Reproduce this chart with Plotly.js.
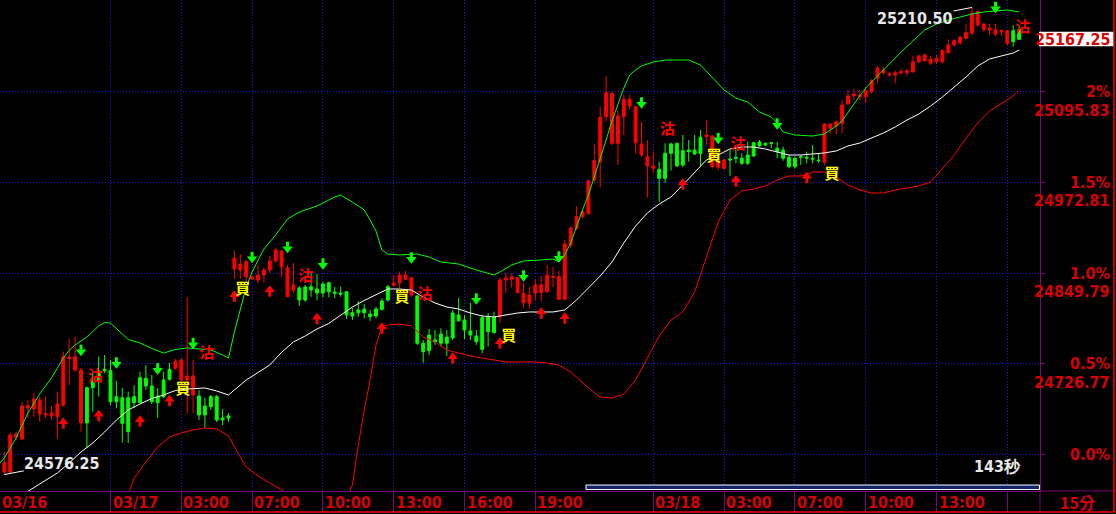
<!DOCTYPE html>
<html><head><meta charset="utf-8">
<script src="https://cdn.plot.ly/plotly-3.0.1.min.js"></script>
<style>html,body{margin:0;padding:0;background:#000;overflow:hidden}#chart{width:1116px;height:514px}</style>
</head><body><div id="chart"></div>
<script>
// ---- candle data (15-minute bars) ----
const opens = [24579.7,24579.7,24627.2,24624.5,24666.6,24665.3,24658.5,24657.1,24655.8,24654.8,
24670.7,24733.8,24718.2,24646.3,24694.2,24702.3,24716.9,24719.2,24717.3,24682.0,
24680.6,24680.6,24682.0,24707.8,24706.9,24696.5,24682.9,24704.6,24719.2,24720.5,
24704.6,24704.6,24684.3,24682.9,24669.3,24682.0,24682.0,24653.0,24655.8,24855.4,
24854.0,24844.5,24841.8,24840.4,24847.2,24854.0,24866.2,24858.1,24817.7,24826.8,
24829.6,24830.9,24831.3,24828.2,24835.0,24836.7,24824.1,24822.8,24824.5,24796.0,
24799.7,24801.0,24794.2,24801.0,24811.9,24831.3,24833.6,24836.7,24841.4,24820.0,
24818.7,24754.5,24765.7,24759.0,24767.1,24763.0,24795.6,24792.9,24786.1,24771.2,
24764.4,24789.2,24790.2,24790.2,24790.2,24840.4,24841.4,24823.2,24809.6,24808.8,
24822.4,24823.2,24824.5,24844.1,24814.2,24814.2,24887.9,24910.6,24926.4,24931.0,
24976.2,25001.0,25062.1,25026.0,25026.0,25062.1,25076.7,25026.8,25010.1,24995.2,
24992.1,24990.7,25012.4,25025.1,25026.0,25016.0,25016.9,25016.9,25034.2,25035.0,
24994.3,24993.4,24992.1,25004.7,25007.0,25005.7,25010.1,25026.8,25027.8,25026.0,
25026.8,25019.2,25016.9,25007.0,25005.7,25007.8,25007.0,25005.7,25003.4,25000.6,
25046.4,25049.5,25053.2,25079.4,25090.7,25089.3,25089.3,25096.1,25114.3,25121.9,
25118.8,25118.8,25121.9,25121.9,25123.2,25136.8,25138.2,25134.7,25136.8,25136.8,
25149.0,25159.5,25162.6,25168.6,25175.4,25186.7,25180.8,25179.9,25174.4,25177.6,
25161.8,25178.9,25180.8];
const highs = [24607.3,24633.1,24634.4,24675.2,24677.5,24687.4,24682.0,24682.0,24669.3,24688.8,
24743.1,24760.3,24763.4,24720.9,24695.5,24715.9,24736.3,24738.6,24731.8,24703.7,
24693.8,24688.8,24697.8,24715.9,24725.0,24711.4,24693.8,24715.9,24727.7,24733.1,
24734.5,24817.3,24731.8,24691.1,24680.2,24684.3,24684.3,24665.3,24659.8,24880.2,
24875.7,24867.6,24847.2,24860.8,24856.7,24873.0,24883.9,24881.1,24860.8,24863.5,
24832.3,24833.6,24849.9,24848.6,24838.1,24838.1,24831.3,24831.3,24824.5,24802.4,
24811.9,24807.8,24799.7,24804.2,24815.6,24833.6,24847.2,24851.7,24852.6,24844.9,
24820.0,24759.0,24773.9,24772.5,24774.8,24772.5,24799.7,24816.0,24792.9,24809.6,
24772.5,24792.9,24795.6,24797.4,24843.5,24849.9,24849.5,24844.9,24836.3,24831.3,
24840.4,24845.8,24860.8,24858.1,24853.0,24894.7,24912.8,24940.9,24935.5,24976.2,
25025.1,25075.7,25117.4,25096.1,25071.2,25091.6,25091.6,25075.7,25055.4,25030.5,
25014.6,25001.0,25026.0,25026.8,25026.0,25037.3,25030.5,25037.3,25044.1,25057.7,
25037.3,25003.4,25005.7,25016.9,25021.4,25012.4,25028.2,25028.2,25030.5,25026.8,
25026.8,25028.2,25021.4,25010.1,25007.8,25010.1,25014.6,25023.7,25012.4,25053.2,
25053.2,25056.7,25084.8,25098.4,25099.8,25098.4,25102.9,25112.9,25131.0,25130.0,
25123.2,25124.6,25127.9,25127.9,25144.6,25145.9,25148.2,25144.6,25145.9,25153.7,
25167.2,25167.2,25171.7,25188.0,25210.5,25207.0,25189.0,25188.0,25188.0,25180.8,
25179.9,25186.7,25184.3];
const lows = [24576.25,24578.4,24623.2,24623.2,24653.0,24654.8,24648.0,24653.0,24650.3,24624.5,
24668.4,24697.8,24715.9,24634.4,24612.3,24661.6,24682.0,24714.1,24670.7,24666.2,
24619.5,24619.1,24666.6,24673.4,24691.1,24672.0,24653.0,24680.2,24703.7,24718.2,
24701.9,24659.8,24659.8,24650.3,24639.5,24663.9,24647.6,24643.5,24647.6,24841.8,
24841.8,24838.1,24840.4,24836.3,24836.7,24849.9,24864.9,24844.5,24817.3,24822.8,
24805.1,24810.5,24817.7,24813.3,24816.9,24816.9,24815.6,24817.7,24787.5,24786.1,
24790.2,24788.4,24785.1,24788.4,24798.7,24811.0,24830.9,24829.1,24840.4,24817.7,
24752.2,24728.1,24738.6,24752.2,24749.8,24737.2,24759.0,24783.8,24760.3,24759.0,
24752.2,24741.3,24749.8,24768.0,24782.0,24822.8,24830.5,24822.4,24802.4,24802.0,
24813.3,24811.0,24822.8,24830.9,24813.3,24813.3,24883.5,24908.3,24924.2,24928.7,
24973.9,24966.3,25055.4,25023.7,24996.6,25037.3,25071.2,25012.4,25007.8,24952.7,
24985.7,24946.7,24972.5,24988.8,24994.3,24993.8,25001.0,25010.1,24994.3,25023.7,
24992.1,24989.8,24989.8,24981.6,24998.9,24996.6,24996.6,25007.8,25021.4,25022.4,
25019.2,25005.7,25002.4,24992.1,24992.1,24996.6,24998.9,24998.9,24999.7,24996.6,
25039.6,25038.7,25040.0,25078.0,25084.8,25084.8,25080.3,25093.9,25107.9,25118.8,
25116.5,25107.5,25118.8,25117.4,25121.9,25134.7,25136.8,25132.3,25133.7,25134.7,
25148.2,25157.2,25159.5,25167.2,25173.1,25184.3,25177.6,25173.1,25171.7,25171.7,
25159.5,25157.2,25166.3];
const closes = [24592.3,24630.0,24631.3,24669.3,24669.7,24678.8,24677.5,24658.5,24659.8,24672.0,
24736.3,24735.9,24736.3,24718.2,24646.3,24694.2,24702.3,24717.3,24675.2,24675.2,
24645.8,24634.4,24673.8,24673.8,24696.5,24675.2,24673.8,24682.0,24705.6,24729.5,
24731.8,24710.1,24710.1,24657.1,24657.1,24668.4,24650.3,24650.3,24653.0,24870.3,
24862.1,24865.3,24844.5,24847.2,24854.0,24866.2,24881.1,24879.8,24856.7,24833.6,
24813.3,24813.3,24826.8,24822.8,24822.8,24824.5,24822.4,24821.4,24792.9,24791.5,
24796.0,24796.0,24790.6,24791.5,24800.6,24813.3,24836.3,24847.2,24847.2,24843.5,
24754.5,24743.1,24744.4,24756.2,24754.5,24754.5,24761.7,24785.1,24772.5,24765.7,
24756.6,24746.3,24770.2,24768.9,24840.4,24843.1,24844.9,24843.5,24822.4,24820.0,
24833.6,24833.6,24847.2,24844.9,24844.9,24889.3,24911.0,24926.4,24933.2,24975.2,
25002.4,25061.3,25094.7,25093.9,25063.1,25085.8,25085.8,25075.7,25025.1,25007.8,
24995.2,24978.5,24978.5,25012.4,24995.2,24996.6,25014.6,25011.5,25012.4,25037.3,
25035.9,25002.4,25003.4,25003.4,25005.7,24998.9,24998.9,25008.8,25022.4,25023.7,
25026.0,25014.6,25005.7,24994.3,24994.3,25007.0,25006.1,25004.7,25002.4,25052.2,
25052.2,25055.4,25078.0,25090.3,25093.0,25091.6,25097.4,25111.0,25127.9,25125.6,
25120.1,25121.9,25123.2,25124.6,25136.8,25144.6,25145.9,25140.1,25141.4,25151.8,
25159.5,25165.3,25170.0,25176.2,25202.5,25204.7,25188.0,25182.2,25179.9,25178.9,
25178.9,25164.0,25167.25];

// ---- Bollinger bands (bar index, price) ----
const upperIdx = [-1,0,2,4,6,8,10,11,12,14,16,17,18,19,21,23,25,27,29,31,33,35,37,38,39,40,41,42,44,46,48,50,53,56,57,59,61,62,63,64,65,67,70,72,74,77,80,83,84,86,88,91,93,94,95,96,97,98,99,100,101,102,103,104,105,106,107,108,110,112,116,118,120,122,124,126,128,130,131,132,134,137,139,141,142,143,144,146,148,150,152,154,156,158,160,162,164,166,168,170,172];
const upperVal = [24589.2,24598.7,24625.9,24659.8,24685.6,24707.4,24734.5,24744.8,24752.2,24763.0,24778.0,24782.7,24782.0,24774.6,24759.6,24754.9,24747.4,24741.3,24746.0,24748.1,24746.7,24745.4,24738.6,24734.5,24769.8,24801.0,24830.9,24851.3,24882.5,24901.5,24923.2,24932.7,24940.9,24953.1,24955.8,24946.3,24935.5,24921.9,24906.9,24881.1,24875.7,24874.4,24875.7,24871.6,24864.9,24862.1,24854.0,24847.2,24851.3,24860.8,24866.2,24867.6,24868.9,24864.9,24874.4,24890.7,24913.7,24935.5,24955.8,24980.3,25003.4,25030.5,25056.3,25079.4,25101.1,25118.8,25125.6,25131.0,25136.4,25139.1,25139.1,25132.3,25114.7,25098.4,25087.5,25082.1,25068.5,25061.7,25053.6,25041.4,25037.3,25035.9,25038.7,25049.5,25056.3,25068.5,25079.4,25101.1,25117.4,25135.1,25150.0,25164.9,25179.9,25188.0,25193.4,25197.5,25201.6,25204.3,25205.7,25207.0,25204.3];
const midIdx = [3,7,9,11,13,15,17,19,21,23,25,27,29,31,34,36,38,39,41,43,45,47,49,51,53,55,57,59,61,63,65,67,69,71,73,75,77,79,81,83,85,87,89,91,93,95,97,99,101,103,105,107,109,111,113,115,117,119,121,123,125,127,129,131,133,135,137,139,141,143,145,147,149,151,153,155,157,159,161,163,165,167,169,171,172];
const midVal = [24548.5,24568.9,24578.4,24591.9,24606.9,24619.1,24634.0,24650.3,24663.9,24672.0,24679.5,24684.3,24690.4,24692.4,24693.8,24689.7,24684.3,24691.1,24704.6,24714.8,24725.0,24742.3,24756.2,24764.4,24773.9,24781.4,24792.2,24803.7,24812.6,24820.0,24828.2,24828.2,24826.8,24817.3,24809.2,24803.8,24801.0,24795.6,24791.5,24790.2,24792.9,24795.6,24797.0,24797.0,24797.0,24799.7,24813.3,24829.6,24845.8,24864.9,24890.7,24913.7,24931.4,24943.6,24953.1,24969.4,24987.1,25003.4,25010.1,25018.3,25021.0,25021.0,25018.3,25014.2,25010.1,25010.1,25011.5,25012.9,25015.6,25022.4,25026.4,25033.2,25040.0,25048.2,25057.7,25065.8,25076.7,25088.9,25102.5,25116.0,25131.0,25140.5,25144.6,25148.6,25152.7];
const lowerIdx = [21,22,24,26,28,30,32,34,36,38,39,41,43,45,47,49,58,59,60,61,62,63,64,65,67,69,71,73,75,77,79,81,83,85,88,90,92,94,96,98,100,101,103,105,107,109,111,113,115,117,119,121,123,125,127,129,131,133,135,137,139,141,143,145,147,149,151,153,155,157,159,161,163,165,167,169,171,172];
const lowerVal = [24548.5,24571.6,24593.3,24613.7,24627.2,24632.7,24636.8,24639.5,24638.1,24628.6,24613.7,24586.5,24574.3,24564.8,24555.3,24545.8,24541.7,24562.1,24616.4,24663.9,24704.7,24752.2,24776.6,24779.3,24780.7,24778.0,24763.0,24756.2,24745.4,24741.3,24737.2,24734.5,24731.8,24729.1,24729.1,24729.1,24727.7,24725.0,24715.5,24700.6,24687.0,24681.6,24680.2,24685.6,24704.6,24734.5,24764.4,24786.1,24797.0,24824.1,24870.3,24919.2,24949.0,24961.3,24964.0,24968.1,24976.2,24981.6,24981.6,24987.1,24987.1,24980.3,24969.4,24962.6,24958.5,24958.5,24962.6,24965.3,24968.1,24973.5,24992.5,25010.1,25033.2,25053.6,25069.9,25080.7,25090.3,25098.4];

// ---- signal markers ----
const downIdx = [13,19,26,32,42,48,54,69,80,88,94,108,121,131,168];
const downVal = [24744.7,24727.7,24719.6,24754.2,24871.0,24884.6,24862.1,24870.3,24814.6,24845.8,24871.6,25080.7,25032.5,25052.2,25210.4];
const upIdx = [10,16,23,28,39,45,53,64,76,84,91,95,115,124,136];
const upVal = [24646.2,24656.4,24649.0,24676.8,24818.7,24825.5,24788.1,24775.2,24734.5,24754.9,24795.6,24788.8,24970.8,24974.9,24979.6];
const buyIdx = [30.3,40.4,67.4,85.5,120.3,140.3];
const buyVal = [24691.1,24826.8,24816.0,24763.0,25007.4,24982.3];
const sellIdx = [15.4,34.3,51.1,71.3,112.4,124.4,172.6];
const sellVal = [24708.8,24739.3,24844.5,24819.4,25043.4,25023.0,25181.9];

// ---- axes / labels ----
const gridPrice = [24603.75,24726.77,24849.79,24972.81,25095.83];
const pctLabels = ['0.0%','0.5%','1.0%','1.5%','2%'];
const priceLabels = ['','24726.77','24849.79','24972.81','25095.83'];
const sepIdx = [18,30,42,54,66,78,90,110,122,134,146,158,170];
const timeLabels = ['03/17','03:00','07:00','10:00','13:00','16:00','19:00','03/18','03:00','07:00','10:00','13:00',''];
const firstLabel = '03/16';

const FONT = 'DejaVu Sans Condensed, DejaVu Sans, Liberation Sans, sans-serif';
const CJK = 'Noto Sans CJK TC, Noto Sans CJK SC, sans-serif';
const RED_TXT = '#d80000';
const YR = [24553.9, 25220.6];
const XR = [-0.729, 175.54];
const PX = (YR[1] - YR[0]) / 491;          // price per screen pixel
const yPaper = v => (v - YR[0]) / (YR[1] - YR[0]);

const xs = opens.map((_, i) => i);
const n = closes.length;
let hiI = 0, loI = 0;
for (let i = 0; i < n; i++) { if (highs[i] > highs[hiI]) hiI = i; if (lows[i] < lows[loI]) loI = i; }

function arrowTraces(xv, yv, dir, color) {
  // head (triangle) + shaft (thick short line) drawn as markers
  const s = dir === 'down' ? 1 : -1;
  return [
    {type:'scatter', mode:'markers', x:xv, y:yv.map(v => v - s*1.2*PX),
     marker:{symbol: dir === 'down' ? 'triangle-down' : 'triangle-up', size:9, color:color, line:{width:0}},
     hoverinfo:'skip', cliponaxis:false},
    {type:'scatter', mode:'markers', x:xv, y:yv.map(v => v + s*3.2*PX),
     marker:{symbol:'line-ns', size:3.6, color:color, line:{width:3, color:color}},
     hoverinfo:'skip', cliponaxis:false}
  ];
}

const traces = [
  {type:'candlestick', x: xs, open: opens, high: highs, low: lows, close: closes,
   increasing:{line:{color:'#ff0000', width:1}, fillcolor:'#ff0000'},
   decreasing:{line:{color:'#00ff00', width:1}, fillcolor:'#00ff00'},
   whiskerwidth:0, hoverinfo:'skip', showlegend:false},
  {type:'scatter', mode:'lines', x: upperIdx, y: upperVal, line:{color:'#00ff00', width:1}, hoverinfo:'skip'},
  {type:'scatter', mode:'lines', x: midIdx, y: midVal, line:{color:'#ffffff', width:1}, hoverinfo:'skip'},
  {type:'scatter', mode:'lines', x: lowerIdx, y: lowerVal, line:{color:'#ff0000', width:1}, hoverinfo:'skip'},
  ...arrowTraces(downIdx, downVal, 'down', '#00ff00'),
  ...arrowTraces(upIdx, upVal, 'up', '#ff0000'),
  {type:'scatter', mode:'text', x: buyIdx, y: buyVal, text: buyIdx.map(()=>'買'),
   textfont:{family:CJK, size:15, color:'#ffff00', weight:'bold'}, hoverinfo:'skip', cliponaxis:false},
  {type:'scatter', mode:'text', x: sellIdx, y: sellVal, text: sellIdx.map(()=>'沽'),
   textfont:{family:CJK, size:15, color:'#ff0000', weight:'bold'}, hoverinfo:'skip', cliponaxis:false}
];

const annotations = [];
for (let k = 0; k < gridPrice.length; k++) {
  annotations.push({xref:'paper', yref:'y', x:1.0697, y:gridPrice[k], xanchor:'right', yanchor:'middle',
    text:pctLabels[k], showarrow:false, font:{family:FONT, size:16, color:RED_TXT, weight:'bold'}});
  if (priceLabels[k]) annotations.push({xref:'paper', yref:'y', x:1.0697, y:gridPrice[k], yshift:-18.5,
    xanchor:'right', yanchor:'middle', text:priceLabels[k], showarrow:false,
    font:{family:FONT, size:16, color:RED_TXT, weight:'bold'}});
}
const labY = -11/491;
annotations.push({xref:'paper', yref:'paper', x:0, y:labY, xanchor:'left', yanchor:'middle', xshift:0,
  text:firstLabel, showarrow:false, font:{family:FONT, size:16, color:RED_TXT, weight:'bold'}});
for (let k = 0; k < sepIdx.length; k++) {
  if (!timeLabels[k]) continue;
  annotations.push({xref:'x', yref:'paper', x:sepIdx[k], y:labY, xanchor:'left', yanchor:'middle', xshift:0,
    text:timeLabels[k], showarrow:false, font:{family:FONT, size:16, color:RED_TXT, weight:'bold'}});
}
annotations.push({xref:'paper', yref:'paper', x:1077/1040, y:labY, xanchor:'center', yanchor:'middle',
  text:'15分', showarrow:false, font:{family:CJK, size:16, color:RED_TXT, weight:'bold'}});
annotations.push({xref:'paper', yref:'paper', x:997/1040, y:(491-466)/491, xanchor:'center', yanchor:'middle',
  text:'143秒', showarrow:false, font:{family:FONT, size:16, color:'#e8e8e8', weight:'bold'}});
// high / low labels with leader lines
annotations.push({xref:'x', yref:'y', x:loI, y:lows[loI], ax:58, ay:-11, axref:'pixel', ayref:'pixel',
  text:lows[loI].toFixed(2), showarrow:true, arrowhead:0, arrowwidth:1, arrowcolor:'#ffffff', standoff:0,
  font:{family:FONT, size:16, color:'#e8e8e8', weight:'bold'}, borderpad:0});
annotations.push({xref:'x', yref:'y', x:hiI, y:highs[hiI], ax:-57, ay:11, axref:'pixel', ayref:'pixel',
  text:highs[hiI].toFixed(2), showarrow:true, arrowhead:0, arrowwidth:1, arrowcolor:'#ffffff', standoff:0,
  font:{family:FONT, size:16, color:'#e8e8e8', weight:'bold'}, borderpad:0});
// last price tag
const last = closes[n-1];
annotations.push({xref:'paper', yref:'y', x:1113/1040, y:last, xanchor:'right', yanchor:'middle',
  text:last.toFixed(2), showarrow:false, font:{family:FONT, size:16, color:RED_TXT, weight:'bold'}});

const stripY = -21/491;
const shapes = [
  {type:'rect', xref:'paper', yref:'paper', x0:1039/1040, x1:1114/1040,
   y0:yPaper(last)-7/491, y1:yPaper(last)+7.5/491, fillcolor:'#ffffff', line:{width:0}, layer:'above'},
  {type:'line', xref:'paper', yref:'paper', x0:1, x1:1, y0:stripY, y1:0, line:{color:'#800080', width:1}},
  {type:'line', xref:'paper', yref:'paper', x0:1, x1:1114/1040, y0:0, y1:0, line:{color:'#800080', width:1}},
  {type:'line', xref:'paper', yref:'paper', x0:0, x1:1114.5/1040, y0:stripY, y1:stripY, line:{color:'#ff0000', width:1.5}},
  {type:'line', xref:'paper', yref:'paper', x0:1114/1040, x1:1114/1040, y0:stripY, y1:1, line:{color:'#ff0000', width:1.5}},
  {type:'rect', xref:'paper', yref:'paper', x0:586/1040, x1:1039.5/1040, y0:(491-489.5)/491, y1:(491-485)/491,
   fillcolor:'#14246c', line:{color:'#ffffff', width:1}}
];

const layout = {
  width:1116, height:514,
  margin:{l:0, r:76, t:0, b:23, pad:0},
  paper_bgcolor:'#000000', plot_bgcolor:'#000000',
  showlegend:false, dragmode:false,
  xaxis:{type:'linear', range:XR, rangeslider:{visible:false}, tickmode:'array', tickvals:sepIdx,
    showticklabels:false, ticks:'outside', ticklen:21, tickcolor:'#800080', tickwidth:1,
    showgrid:true, gridcolor:'#1c1cdc', griddash:'1px,2px', gridwidth:1, zeroline:false,
    showline:true, linecolor:'#800080', linewidth:1, fixedrange:true},
  yaxis:{type:'linear', range:YR, side:'right', tickmode:'array', tickvals:gridPrice, showticklabels:false,
    ticks:'outside', ticklen:4, tickcolor:'#800080', showgrid:true, gridcolor:'#1c1cdc',
    griddash:'1px,2px', gridwidth:1, zeroline:false, showline:true, linecolor:'#800080', linewidth:1,
    fixedrange:true},
  annotations, shapes
};
Plotly.newPlot('chart', traces, layout, {staticPlot:true, displayModeBar:false});
</script></body></html>
